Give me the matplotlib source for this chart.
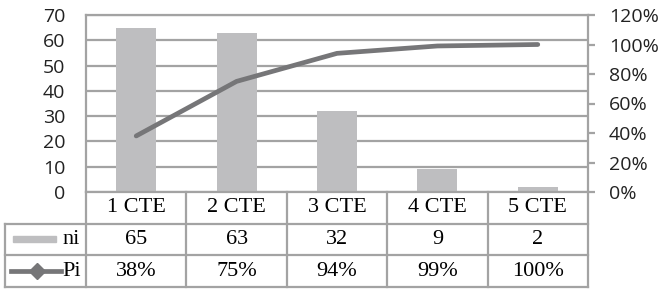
import matplotlib
matplotlib.use("Agg")
import matplotlib.pyplot as plt
from matplotlib.patches import Rectangle

# data
categories = ['1 CTE', '2 CTE', '3 CTE', '4 CTE', '5 CTE']
ni = [65, 63, 32, 9, 2]
pi = [38, 75, 94, 99, 100]   # cumulative %

bar_color = '#BEBEC0'
line_color = '#767678'
grid_color = '#A3A3A3'

W, H = 658, 289
fig = plt.figure(figsize=(W / 100, H / 100), dpi=100)

# plot area in pixels
x0, x1 = 86, 588
y_top, y_zero, y_tab = 15, 192, 287


def box(l, r, t, b):
    return [l / W, 1 - b / H, (r - l) / W, (b - t) / H]


ax = fig.add_axes(box(x0, x1, y_top, y_zero))
xs = range(len(categories))
ax.bar(xs, ni, width=0.4, color=bar_color, zorder=2)
ax.set_xlim(-0.5, len(categories) - 0.5)
ax.set_ylim(0, 70)
ax.set_yticks(range(0, 71, 10))
ax.yaxis.grid(True, color=grid_color, linewidth=1.6, zorder=0)
ax.tick_params(axis='y', length=0, pad=15, labelsize=14, labelcolor='#222222')
ax.set_xticks([])
for s in ['left', 'right', 'top']:
    ax.spines[s].set_color(grid_color)
    ax.spines[s].set_linewidth(1.6)
ax.spines['bottom'].set_visible(False)
for t in ax.get_yticklabels():
    t.set_family('Open Sans')

ax2 = ax.twinx()
ax2.plot(xs, pi, color=line_color, linewidth=3.4, solid_capstyle='round', zorder=3)
ax2.set_ylim(0, 120)
ax2.set_yticks(range(0, 121, 20))
ax2.set_yticklabels([f'{v}%' for v in range(0, 121, 20)])
ax2.tick_params(axis='y', length=5, width=1.6, color=grid_color, pad=10,
                labelsize=14, labelcolor='#222222')
for s in ['left', 'right', 'top', 'bottom']:
    ax2.spines[s].set_visible(False)
for t in ax2.get_yticklabels():
    t.set_family('Open Sans')

# data table
tb = fig.add_axes(box(x0, x1, y_zero, y_tab))
tb.set_xlim(-0.5, len(categories) - 0.5)
tb.set_ylim(0, 3)
tb.axis('off')
colw = (x1 - x0) / len(categories)


def px(x):
    return -0.5 + (x - x0) / colw


left = px(5)
lw = 1.6
kw = dict(color=grid_color, linewidth=lw, clip_on=False, solid_capstyle='projecting')
for y in [0, 1, 2]:
    tb.plot([left, len(categories) - 0.5], [y, y], **kw)
tb.plot([-0.5, len(categories) - 0.5], [3, 3], **kw)
for i in range(len(categories) + 1):
    tb.plot([i - 0.5, i - 0.5], [0, 3], **kw)
tb.plot([left, left], [0, 2], **kw)

tfont = dict(family='Liberation Serif', fontsize=16, ha='center', va='center')
for i, c in enumerate(categories):
    tb.text(i, 2.5, c, **tfont)
    tb.text(i, 1.5, str(ni[i]), **tfont)
    tb.text(i, 0.5, f'{pi[i]}%', **tfont)

# row legends
tb.add_patch(Rectangle((px(13), 1.42), px(56) - px(13), 0.2, color=bar_color, clip_on=False))
tb.text(px(80), 1.5, 'ni', family='Liberation Serif', fontsize=16, ha='right', va='center')
tb.plot([px(11), px(61)], [0.5, 0.5], color=line_color, linewidth=3.4, clip_on=False)
tb.plot([px(37)], [0.5], marker='D', markersize=8, color=line_color, clip_on=False)
tb.text(px(81), 0.5, 'Pi', family='Liberation Serif', fontsize=16, ha='right', va='center')

fig.savefig('out.png', dpi=100)
